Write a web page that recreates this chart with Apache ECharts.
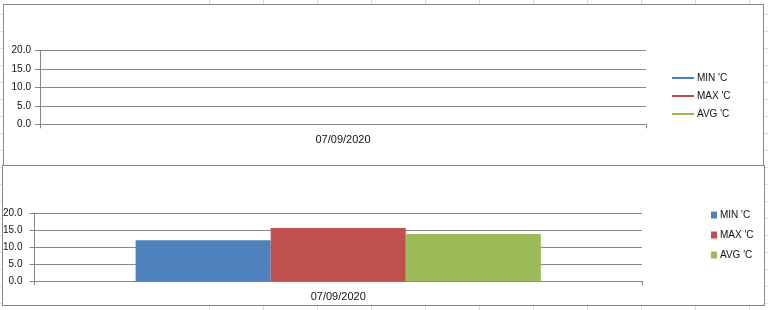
<!DOCTYPE html>
<html>
<head>
<meta charset="utf-8">
<script src="https://cdn.jsdelivr.net/npm/echarts@6/dist/echarts.min.js"></script>
<style>
  html, body { margin: 0; padding: 0; background: #fff; }
  #wrap {
    position: relative; width: 768px; height: 310px; overflow: hidden;
    background:
      repeating-linear-gradient(to right, #dadcdd 0 1px, transparent 1px 54px) 209px 0 / 600px 100% no-repeat,
      repeating-linear-gradient(to bottom, #dadcdd 0 1px, transparent 1px 17px) 0 14px / 100% 100% no-repeat,
      #fff;
  }
  .box { position: absolute; background: #fff; border: 1px solid #888; box-sizing: border-box; }
  #box1 { left: 3px; top: 4px; width: 761px; height: 190px; }
  #box2 { left: 2px; top: 165px; width: 763px; height: 141px; }
  #chart { position: absolute; left: 0; top: 0; width: 768px; height: 310px; }
</style>
</head>
<body>
<div id="wrap">
  <div class="box" id="box1"></div>
  <div class="box" id="box2"></div>
  <div id="chart"></div>
</div>
<script>
// ---- data ----
const categories = ['07/09/2020'];
const seriesNames = ["MIN 'C", "MAX 'C", "AVG 'C"];
const minValues = [12.1];
const maxValues = [15.7];
const avgValues = [13.9];
const yTicks = [0, 5, 10, 15, 20];

// ---- styles ----
const lineColors = ['#4a7ebb', '#be4b48', '#98b954'];
const barColors = ['#4f81bd', '#c0504d', '#9bbb59'];
const axisGray = '#878787';
const textColor = '#111';
const font = 'Liberation Sans, Arial, sans-serif';
const values = [minValues, maxValues, avgValues];

function yAxis(gridIndex, margin) {
  return {
    type: 'value', gridIndex,
    min: yTicks[0], max: yTicks[yTicks.length - 1], interval: yTicks[1] - yTicks[0],
    axisLine: { show: true, lineStyle: { color: axisGray, width: 1 } },
    axisTick: { show: true, length: 5, lineStyle: { color: axisGray } },
    axisLabel: { margin, color: textColor, fontSize: 10, fontFamily: font,
      formatter: v => v.toFixed(1) },
    splitLine: { show: true, lineStyle: { color: axisGray, width: 1 } }
  };
}
function xAxis(gridIndex) {
  return {
    type: 'category', gridIndex, data: categories, boundaryGap: true,
    axisLine: { show: true, lineStyle: { color: axisGray, width: 1 } },
    axisTick: { show: true, length: 4, lineStyle: { color: axisGray } },
    axisLabel: { margin: 10, color: textColor, fontSize: 11, fontFamily: font }
  };
}

const chart = echarts.init(document.getElementById('chart'), null, { renderer: 'canvas' });
chart.setOption({
  backgroundColor: 'transparent',
  animation: false,
  grid: [
    { left: 40, right: 122, top: 50.7, bottom: 185.7 },
    { left: 34, right: 126, top: 213.3, bottom: 28.7 }
  ],
  xAxis: [xAxis(0), xAxis(1)],
  yAxis: [yAxis(0, 9), yAxis(1, 12)],
  legend: [
    {
      orient: 'vertical', left: 672, top: 73, itemGap: 8, padding: 0,
      icon: 'rect', itemWidth: 22, itemHeight: 2,
      textStyle: { color: textColor, fontSize: 10, fontFamily: font, padding: [0, 0, 0, -2] },
      data: seriesNames.map((n, i) => ({ name: n, itemStyle: { color: lineColors[i] } }))
    },
    {
      orient: 'vertical', left: 711, top: 210, itemGap: 10, padding: 0,
      icon: 'rect', itemWidth: 6, itemHeight: 7,
      textStyle: { color: textColor, fontSize: 10, fontFamily: font, padding: [0, 0, 0, -2] },
      data: seriesNames.map((n, i) => ({ name: n, itemStyle: { color: barColors[i] } }))
    }
  ],
  series: [
    ...seriesNames.map((n, i) => ({
      type: 'line', name: n, xAxisIndex: 0, yAxisIndex: 0,
      data: values[i], symbol: 'none', showSymbol: false,
      lineStyle: { color: lineColors[i], width: 2 }, itemStyle: { color: lineColors[i] }
    })),
    ...seriesNames.map((n, i) => ({
      type: 'bar', name: n, xAxisIndex: 1, yAxisIndex: 1,
      data: values[i], barGap: '0%', barCategoryGap: '33.3%',
      itemStyle: { color: barColors[i] }
    }))
  ]
});
</script>
</body>
</html>
